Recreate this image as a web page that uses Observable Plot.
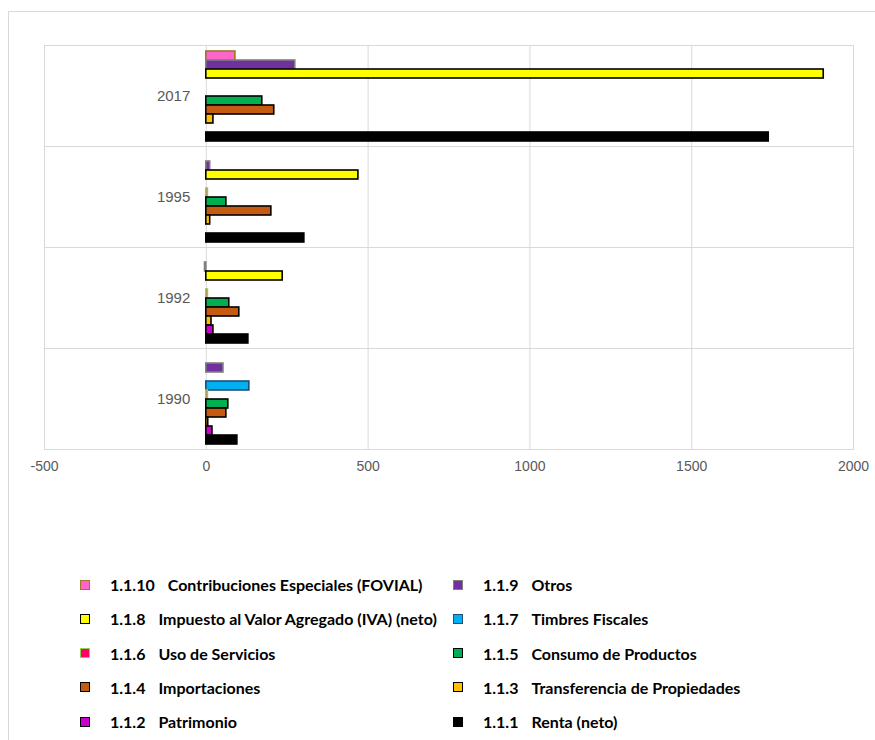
<!DOCTYPE html>
<html><head><meta charset="utf-8">
<script src="https://cdn.jsdelivr.net/npm/d3@7"></script>
<script src="https://cdn.jsdelivr.net/npm/@observablehq/plot@0.6"></script>
<style>
body{margin:0;background:#fff;width:875px;height:740px;overflow:hidden;position:relative;font-family:"Liberation Sans",Arial,sans-serif;}
#frame{position:absolute;left:8px;top:11px;width:900px;height:800px;border-top:1px solid #d9d9d9;border-left:1px solid #d9d9d9;}
#chart{position:absolute;left:0;top:0;}
.leg{position:absolute;font-family:Lato,"Open Sans",sans-serif;font-weight:bold;font-size:16px;color:#000;white-space:nowrap;line-height:18px;}
.sw{position:absolute;width:8px;height:8px;border:1.5px solid #000;}
.num{display:inline-block;}
</style></head><body>
<div id="frame"></div>
<div id="chart"></div>
<div id="legend"></div>
<script>
const years = ["1990", "1992", "1995", "2017"];
const yearOrder = ["2017", "1995", "1992", "1990"];
const seriesCodes = ["1.1.10", "1.1.9", "1.1.8", "1.1.7", "1.1.6", "1.1.5", "1.1.4", "1.1.3", "1.1.2", "1.1.1"];
const seriesNames = ["Contribuciones Especiales (FOVIAL)", "Otros", "Impuesto al Valor Agregado (IVA) (neto)", "Timbres Fiscales", "Uso de Servicios", "Consumo de Productos", "Importaciones", "Transferencia de Propiedades", "Patrimonio", "Renta (neto)"];
// values per series, in the order of `years`
const fovial = [0, 0, 0, 90];
const otros = [53, -4, 12, 275];
const iva = [0, 236, 470, 1908];
const timbres = [133, 0, 0, 0];
const usoServicios = [5, 5, 5, 0];
const consumo = [68, 71, 62, 173];
const importaciones = [62, 102, 201, 210];
const transferencia = [6, 16, 12, 22];
const patrimonio = [19, 22, 0, 0];
const renta = [96, 130, 303, 1738];
const seriesValues = [fovial, otros, iva, timbres, usoServicios, consumo, importaciones, transferencia, patrimonio, renta];
const fills = ["#FF66CC", "#7030A0", "#FFFF00", "#00B0F0", "#FF0066", "#00B050", "#C55A11", "#FFC000", "#CC00CC", "#000000"];
const strokes = ["#A0722A", "#7F7F7F", "#000000", "#1F4E79", "#92D050", "#000000", "#000000", "#000000", "#000000", "#000000"];
const xTicks = [-500, 0, 500, 1000, 1500, 2000];

const rows = [];
seriesCodes.forEach((c, i) => years.forEach((y, j) => rows.push({series: c, year: y, value: seriesValues[i][j], idx: i})));

const barMarks = seriesCodes.map((c, i) => Plot.barX(rows.filter(r => r.series === c && r.value !== 0), {
  x: "value", y: "series", fy: "year", fill: fills[i], stroke: strokes[i], strokeWidth: 1.6
}));

const plot = Plot.plot({
  width: 875, height: 490,
  marginLeft: 44, marginRight: 22, marginTop: 44, marginBottom: 41,
  style: {fontFamily: "'Liberation Sans', Arial, sans-serif", background: "transparent"},
  x: {domain: [-500, 2000], ticks: xTicks, label: null},
  y: {domain: seriesCodes, paddingInner: 0, paddingOuter: 0.4, axis: null},
  fy: {domain: yearOrder, padding: 0, axis: null},
  marks: [
    Plot.gridX(xTicks, {stroke: "#d9d9d9", strokeOpacity: 1, strokeWidth: 1}),
    Plot.frame({stroke: "#d9d9d9", strokeWidth: 1}),
    ...barMarks,
    Plot.text(yearOrder, {fy: d => d, x: 0, text: d => d, frameAnchor: "middle", textAnchor: "end", dx: -16, fill: "#595959", fontSize: 15}),
    Plot.axisX(xTicks, {tickSize: 0, tickPadding: 12, fontSize: 14, color: "#595959", label: null, tickFormat: d => String(d)})
  ]
});
document.getElementById("chart").appendChild(plot);

// Legend: two columns
const legend = document.getElementById("legend");
seriesCodes.forEach((code, i) => {
  const col = i % 2, row = Math.floor(i / 2);
  const cy = 585 + row * 34.3;
  const sx = col === 0 ? 80 : 453;
  const tx = col === 0 ? 110 : 483;
  const sw = document.createElement("div");
  sw.className = "sw";
  sw.style.left = sx + "px"; sw.style.top = (cy - 5.5) + "px";
  sw.style.background = fills[i]; sw.style.borderColor = strokes[i];
  legend.appendChild(sw);
  const t = document.createElement("div");
  t.className = "leg";
  t.style.left = tx + "px"; t.style.top = (cy - 9) + "px";
  t.innerHTML = `<span class="num">${code}</span><span style="margin-left:13px">${seriesNames[i]}</span>`;
  legend.appendChild(t);
});
</script>
</body></html>
